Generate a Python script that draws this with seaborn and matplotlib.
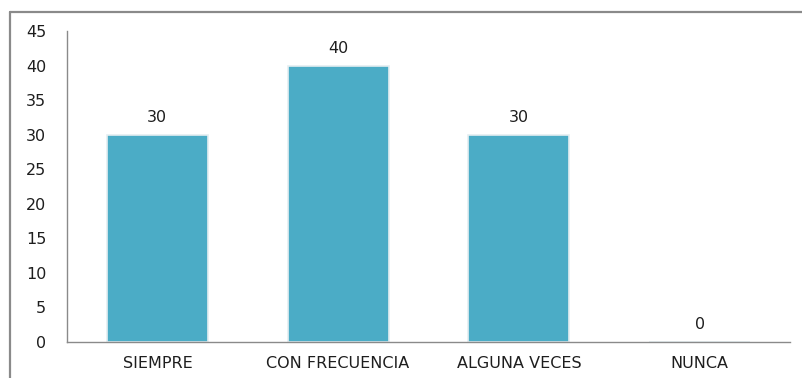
import matplotlib
matplotlib.use("Agg")
import matplotlib.pyplot as plt
import seaborn as sns
import pandas as pd
from matplotlib.lines import Line2D

categories = ["SIEMPRE", "CON FRECUENCIA", "ALGUNA VECES", "NUNCA"]
values = [30, 40, 30, 0]
yticks = [0, 5, 10, 15, 20, 25, 30, 35, 40, 45]

sns.set_theme(style="white")
plt.rcParams['font.family'] = ['DejaVu Sans']

W, H = 802, 378
fig = plt.figure(figsize=(W / 100, H / 100), dpi=100)
ax = fig.add_axes([67 / W, (H - 342) / H, (790 - 67) / W, (342 - 31) / H])

df = pd.DataFrame({"cat": categories, "val": values})
sns.barplot(data=df, x="cat", y="val", color="#4BACC6", width=0.56, ax=ax,
            saturation=1, edgecolor="#e4eef1", linewidth=1.2)

ax.set_xlim(-0.5, 3.5)
ax.set_ylim(0, 45)
ax.set_yticks(yticks)
ax.set_xlabel("")
ax.set_ylabel("")
ax.tick_params(axis="y", length=0, pad=15, labelsize=11.5, colors="#1e1e1e")
ax.tick_params(axis="x", length=0, pad=10, labelsize=11.5, colors="#1e1e1e")
for s in ["top", "right"]:
    ax.spines[s].set_visible(False)
ax.spines["left"].set_color("#8a8a8a")
ax.spines["bottom"].set_color("#8a8a8a")
ax.spines["left"].set_linewidth(1)
ax.spines["bottom"].set_linewidth(1)

for i, v in enumerate(values):
    ax.annotate(str(v), (i, v), xytext=(0, 7), textcoords="offset points",
                ha="center", va="bottom", fontsize=11.5, color="#1e1e1e")

fig.add_artist(Line2D([10 / W, 1], [1 - 12 / H, 1 - 12 / H], transform=fig.transFigure,
                      color="#8a8a8a", linewidth=1.6))
fig.add_artist(Line2D([10 / W, 10 / W], [0, 1 - 12 / H], transform=fig.transFigure,
                      color="#8a8a8a", linewidth=1.6))

fig.savefig("out.png", dpi=100)
